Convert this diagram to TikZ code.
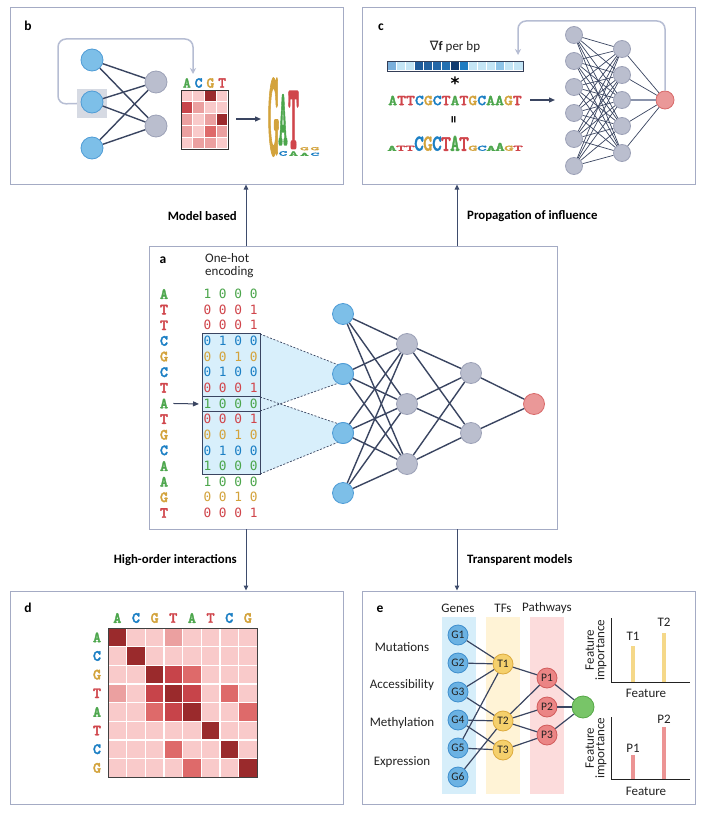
\documentclass[tikz,border=0pt]{standalone}
\usepackage{fontspec}
\setmainfont{Carlito}
\newfontfamily\seqfont{lmmonolt10-bold.otf}[FakeBold=2.2]
\newfontfamily\seqfontw{lmmonolt10-bold.otf}[FakeStretch=1.13,FakeBold=2.2]
\newfontfamily\digfont{DejaVu Sans Mono}
\newfontfamily\symfont{DejaVu Sans}
\usetikzlibrary{arrows.meta}
\definecolor{cA}{HTML}{4CA64C}
\definecolor{cC}{HTML}{1B7FC4}
\definecolor{cG}{HTML}{D3A33C}
\definecolor{cT}{HTML}{D0454B}
\definecolor{frame}{HTML}{A4ABC4}
\definecolor{edge}{HTML}{3A4561}
\definecolor{arr}{HTML}{3E4C6C}
\definecolor{nblue}{HTML}{7DBFE8}
\definecolor{nblueD}{HTML}{4F9CD6}
\definecolor{ngray}{HTML}{BABECE}
\definecolor{ngrayD}{HTML}{9CA1B7}
\definecolor{nred}{HTML}{EA9898}
\definecolor{nredD}{HTML}{D96A6A}
\definecolor{fb}{HTML}{B6BDD3}
\definecolor{lblue}{HTML}{D8EFFB}
\definecolor{sqg}{HTML}{D6DAE3}
\definecolor{h1}{HTML}{F9CACA}
\definecolor{h2}{HTML}{EBA0A0}
\definecolor{h3}{HTML}{DE6A6A}
\definecolor{h4}{HTML}{C7444A}
\definecolor{h5}{HTML}{9A2A2C}
\definecolor{bandB}{HTML}{D6EEFA}
\definecolor{bandY}{HTML}{FFF3D6}
\definecolor{bandP}{HTML}{FCDCDC}
\definecolor{gB}{HTML}{6BB2E3}
\definecolor{gBD}{HTML}{3E8ECD}
\definecolor{tY}{HTML}{F5D06C}
\definecolor{tYD}{HTML}{DDAB3E}
\definecolor{pP}{HTML}{EB8585}
\definecolor{pPD}{HTML}{D15B5B}
\definecolor{oG}{HTML}{78C568}
\definecolor{oGD}{HTML}{56A847}
\definecolor{barY}{HTML}{F5D889}
\definecolor{barP}{HTML}{EC9494}
\definecolor{txt}{HTML}{222222}
\definecolor{mline}{HTML}{8A93AB}
\newcommand\ohA{1 0 0 0}
\newcommand\ohC{0 1 0 0}
\newcommand\ohG{0 0 1 0}
\newcommand\ohT{0 0 0 1}
\newcommand\lbox[4]{\hbox to 11.5pt{\hss\resizebox{#1pt}{#2pt}{\color{#3}\seqfont #4}\hss}}
\begin{document}
\begin{tikzpicture}[x=1pt,y=-1pt,
  panel/.style={draw=frame,line width=1pt,inner sep=0,anchor=north west},
  plab/.style={font=\fontsize{13.5}{14}\selectfont\bfseries,inner sep=0,text=black},
  lab/.style={font=\fontsize{13}{13}\selectfont,inner sep=0,text=txt},
  blab/.style={font=\fontsize{12.8}{13}\selectfont\bfseries,inner sep=0,text=black},
  seqL/.style={font=\fontsize{15.5}{15.5}\selectfont\seqfont,inner sep=0},
  digs/.style={font=\fontsize{12.8}{13}\selectfont\digfont,inner sep=0},
  logo/.style={anchor=south,inner sep=0},
  nb/.style={circle,inner sep=0,minimum size=21pt,fill=nblue,draw=nblueD,line width=0.8pt},
  ng/.style={circle,inner sep=0,minimum size=21pt,fill=ngray,draw=ngrayD,line width=0.8pt},
  nr/.style={circle,inner sep=0,minimum size=21pt,fill=nred,draw=nredD,line width=0.8pt},
  wire/.style={draw=edge,line width=1.4pt},
  thinwire/.style={draw=edge,line width=0.7pt},
  parrow/.style={draw=arr,line width=1pt,-{Triangle[length=5pt,width=4.5pt]}},
  fbarrow/.style={draw=fb,line width=1.5pt,rounded corners=8pt,-{Stealth[length=6pt,width=6pt]}},
  darrow/.style={draw=edge,line width=1.3pt,-{Triangle[length=6pt,width=5pt]}},
  gnode/.style={circle,inner sep=0,minimum size=20pt,fill=gB,draw=gBD,line width=0.8pt,font=\fontsize{11.5}{12}\selectfont,text=txt},
  tnode/.style={circle,inner sep=0,minimum size=20pt,fill=tY,draw=tYD,line width=0.8pt,font=\fontsize{11.5}{12}\selectfont,text=txt},
  pnode/.style={circle,inner sep=0,minimum size=20pt,fill=pP,draw=pPD,line width=0.8pt,font=\fontsize{11.5}{12}\selectfont,text=txt},
  ewire/.style={draw=edge,line width=1.2pt}
]
\useasboundingbox (0,0) rectangle (704,813);
\fill[white] (0,0) rectangle (704,813);

% ---------- panel frames ----------
\node[panel,minimum width=333pt,minimum height=177pt] (pb) at (10,7) {};
\node[panel,minimum width=333pt,minimum height=177pt] (pc) at (362,7) {};
\node[panel,minimum width=408pt,minimum height=283pt] (pa) at (149,246) {};
\node[panel,minimum width=333pt,minimum height=213pt] (pd) at (10,591) {};
\node[panel,minimum width=333pt,minimum height=213pt] (pe) at (362,591) {};

% ---------- inter-panel arrows ----------
\coordinate (ab0) at (246,246); \coordinate (ab1) at (246,184.5);
\coordinate (ac0) at (457,246); \coordinate (ac1) at (457,184.5);
\coordinate (ad0) at (246,529); \coordinate (ad1) at (246,590.5);
\coordinate (ae0) at (457,529); \coordinate (ae1) at (457,590.5);
\draw[parrow] (ab0) -- (ab1);
\draw[parrow] (ac0) -- (ac1);
\draw[parrow] (ad0) -- (ad1);
\draw[parrow] (ae0) -- (ae1);
\node[blab,anchor=east] (lmb) at (237,216) {Model based};
\node[blab,anchor=west] (lpi) at (467,216) {Propagation of influence};
\node[blab,anchor=east] (lho) at (237,560) {High-order interactions};
\node[blab,anchor=west] (ltm) at (467,560) {Transparent models};

% ================= panel a =================
\node[plab] (la) at (163,260) {a};
\node[lab,anchor=north west,align=left] (loh) at (205,253) {One-hot\\encoding};
\node[nb] (i1) at (343,314) {};
\node[nb] (i2) at (343,374) {};
\node[nb] (i3) at (343,433) {};
\node[nb] (i4) at (343,493) {};
\fill[lblue] (260,334) -- (i2.120) -- (i2.240) -- (260,411) -- cycle;
\fill[lblue] (260,397) -- (i3.120) -- (i3.240) -- (260,474) -- cycle;
\node[panel,fill=lblue,draw=edge,line width=0.9pt,minimum width=58pt,minimum height=141pt] (win) at (202,333) {};
\node[panel,draw=edge,line width=0.9pt,minimum width=58pt,minimum height=15pt] (hl) at (202,396) {};
\draw[edge,line width=0.7pt,dash pattern=on 2pt off 1.6pt] (260,334) -- (i2.120);
\draw[edge,line width=0.7pt,dash pattern=on 2pt off 1.6pt] (260,411) -- (i2.240);
\draw[edge,line width=0.7pt,dash pattern=on 2pt off 1.6pt] (260,397) -- (i3.120);
\draw[edge,line width=0.7pt,dash pattern=on 2pt off 1.6pt] (260,474) -- (i3.240);
\node[nb] at (i2) {};
\node[nb] at (i3) {};
\foreach \L [count=\i] in {A,T,T,C,G,C,T,A,T,G,C,A,A,G,T} {
  \node[seqL,text=c\L] (sq\i) at (164,{294+(\i-1)*15.64}) {\L};
  \node[digs,text=c\L] (oh\i) at (230.5,{294+(\i-1)*15.64}) {\csname oh\L\endcsname};
}
\draw[darrow,line width=1pt] ([xshift=5pt]sq8.east) -- ([xshift=-3pt]hl.west);
\node[ng] (h1) at (407,344) {};
\node[ng] (h2) at (407,404) {};
\node[ng] (h3) at (407,464) {};
\node[ng] (k1) at (471,373) {};
\node[ng] (k2) at (471,433) {};
\node[nr] (o) at (534,404) {};
\foreach \a in {i1,i2,i3,i4} \foreach \b in {h1,h2,h3} \draw[wire] (\a) -- (\b);
\foreach \a in {h1,h2,h3} \foreach \b in {k1,k2} \draw[wire] (\a) -- (\b);
\foreach \a in {k1,k2} \draw[wire] (\a) -- (o);

% ================= panel b =================
\node[plab] (lb) at (28,26) {b};
\node[fill=sqg,inner sep=0,minimum width=30pt,minimum height=29pt] (bsq) at (92,103.5) {};
\node[nb,minimum size=22pt] (bi1) at (92,60) {};
\node[nb,minimum size=22pt] (bi2) at (92,102) {};
\node[nb,minimum size=22pt] (bi3) at (92,148) {};
\node[ng,minimum size=22pt] (bh1) at (156,82) {};
\node[ng,minimum size=22pt] (bh2) at (156,126) {};
\foreach \a in {bi1,bi2,bi3} \foreach \b in {bh1,bh2} \draw[wire] (\a) -- (\b);
\coordinate (bfe) at (193,74);
\draw[fbarrow] (bsq.west) -- (58,104) -- (58,39) -- (193,39) -- (bfe);
\foreach \row [count=\i] in {{1,1,5,1},{4,2,1,1},{2,1,2,5},{2,1,3,2},{1,2,2,1}} {
  \foreach \v [count=\j] in \row {
    \fill[h\v] ({181+(\j-1)*11.75+0.6},{90+(\i-1)*11.8+0.6}) rectangle ++(10.55,10.6);
  }
}
\draw[black!80,line width=0.8pt] (181,90) rectangle (228,149);
\foreach \L [count=\j] in {A,C,G,T}
  \node[seqL,font=\fontsize{15}{15}\selectfont\seqfont,text=c\L] (bh\L) at ({181+(\j-0.5)*11.75},83) {\L};
\coordinate (ba1) at (236,119); \coordinate (ba2) at (261,119);
\draw[darrow] (ba1) -- (ba2);
% logo b (one node per column)
\node[logo] (blc1) at (273.5,156) {\lbox{11.5}{76}{cG}{G}};
\node[logo] (blc2) at (283,156) {\vbox{\offinterlineskip\lbox{9.5}{50}{cA}{A}\vskip 6.5pt\lbox{8.5}{4.5}{cC}{C}}};
\node[logo] (blc3) at (293.5,156) {\vbox{\offinterlineskip\lbox{11}{57}{cT}{T}\vskip 3pt\lbox{9}{4.5}{cA}{A}}};
\node[logo] (blc4) at (304.5,156) {\vbox{\offinterlineskip\lbox{9}{3}{cG}{G}\vskip 2.5pt\lbox{9}{3}{cA}{A}}};
\node[logo] (blc5) at (315,156) {\vbox{\offinterlineskip\lbox{9}{3}{cG}{G}\vskip 2.5pt\lbox{9}{3}{cC}{C}}};

% ================= panel c =================
\node[plab] (lc) at (381,27) {c};
\node[lab] (lgrad) at (455,47) {{\symfont\fontsize{13}{13}\selectfont ∇}\textbf{f} per bp};
\foreach \c [count=\i] in {7AAFDB,C3E5F6,C3E5F6,1D5A9A,22609F,2467A8,2370B2,0F3A70,1F7CC2,C3E5F6,C3E5F6,C3E5F6,8EC4E8,C3E5F6,C3E5F6} {
  \definecolor{gc}{HTML}{\c}
  \fill[gc] ({387+(\i-1)*9.067+0.5},61.5) rectangle ++(8.07,9);
}
\draw[edge!90!black,line width=0.9pt] (387,61) rectangle (523,71);
\node[inner sep=0,anchor=north,font=\fontsize{17}{17}\selectfont\symfont\bfseries] (cstar) at (455,76.5) {*};
\node[inner sep=0,font=\fontsize{15}{15}\selectfont\seqfontw] (cseq) at (455,100.5) {\color{cA}A\color{cT}TT\color{cC}C\color{cG}G\color{cC}C\color{cT}T\color{cA}A\color{cT}T\color{cG}G\color{cC}C\color{cA}AA\color{cG}G\color{cT}T};
\node[inner sep=0,rotate=90,font=\fontsize{15}{15}\selectfont\bfseries] (ceq) at (455,120) {=};
\foreach \L/\h [count=\i] in {A/5,T/5,T/5,C/14,G/14,C/14,T/13.5,A/15,T/13.5,G/5,C/5,A/5,A/8,G/5,T/5} {
  \node[logo] (lg\i) at ({387.5+(\i-0.5)*9.0},151) {\resizebox{9.6pt}{\h pt}{\color{c\L}\seqfont \L}};
}
\coordinate (ca1) at (530,100); \coordinate (ca2) at (555,100);
\draw[darrow] (ca1) -- (ca2);
\foreach \y [count=\i] in {35,61,87,113,139,166} \node[ng,minimum size=17pt] (cl\i) at (574,\y) {};
\foreach \y [count=\i] in {49,75,100,126,153} \node[ng,minimum size=17pt] (cm\i) at (622,\y) {};
\node[nr,minimum size=18pt] (co) at (665,100) {};
\foreach \a in {1,...,6} \foreach \b in {1,...,5} \draw[thinwire] (cl\a) -- (cm\b);
\foreach \b in {1,2,4,5} \draw[thinwire] (cm\b) -- (co);
\draw[draw=mline,line width=1.6pt] (cm3) -- (co);
\coordinate (cfe) at (518,55);
\draw[fbarrow] (co.north) -- (665,21) -- (518,21) -- (cfe);

% ================= panel d =================
\node[plab] (ld) at (28,608) {d};
\foreach \row [count=\i] in {{5,1,1,2,1,1,1,1},{1,5,1,1,1,1,1,1},{1,1,5,4,3,1,1,1},{2,1,4,5,4,1,3,1},{1,1,3,4,5,1,1,3},{1,1,1,1,1,5,1,1},{1,1,1,3,1,1,5,1},{1,1,1,1,3,1,1,5}} {
  \foreach \v [count=\j] in \row {
    \fill[h\v] ({108+(\j-1)*18.65+0.7},{628+(\i-1)*18.65+0.7}) rectangle ++(17.25,17.25);
  }
}
\draw[black!75,line width=0.8pt] (108,628) rectangle (257.2,777.2);
\foreach \L [count=\j] in {A,C,G,T,A,T,C,G} {
  \node[seqL,text=c\L] (dc\j) at ({108+(\j-0.5)*18.65},618) {\L};
  \node[seqL,text=c\L] (dr\j) at (97,{628+(\j-0.5)*18.65}) {\L};
}

% ================= panel e =================
\node[plab] (le) at (380,609) {e};
\fill[bandB] (442,617) rectangle (476,794);
\fill[bandY] (486,617) rectangle (520,794);
\fill[bandP] (530,617) rectangle (564,794);
\node[lab] (hg) at (458,608) {Genes};
\node[lab] (ht) at (503,608) {TFs};
\node[lab] (hp) at (547,608) {Pathways};
\foreach \y [count=\i] in {635,663,692,720,748,777} \node[gnode] (g\i) at (458,\y) {G\i};
\node[tnode] (t1) at (503,664) {T1};
\node[tnode] (t2) at (503,721) {T2};
\node[tnode] (t3) at (503,750) {T3};
\node[pnode] (p1) at (547,678) {P1};
\node[pnode] (p2) at (547,707) {P2};
\node[pnode] (p3) at (547,735) {P3};
\node[circle,inner sep=0,minimum size=22pt,fill=oG,draw=oGD,line width=0.8pt] (eo) at (583,707) {};
\foreach \a/\b in {g1/t1,g2/t1,g3/t1,g3/t2,g4/t2,g4/t3,g5/t1,g5/t3,g6/t2,t1/p1,t2/p1,t2/p2,t2/p3,t3/p3,p1/eo,p2/eo,p3/eo}
  \draw[ewire] (\a) -- (\b);
\node[lab] (rm) at (402,647) {Mutations};
\node[lab] (ra) at (402,685) {Accessibility};
\node[lab] (rme) at (402,723) {Methylation};
\node[lab] (rex) at (402,762) {Expression};
\draw[txt,line width=0.9pt] (611,618) -- (611,682) -- (690,682);
\fill[barY] (631.3,646) rectangle (634.8,682);
\fill[barY] (662.3,633) rectangle (665.8,682);
\node[lab] (bt1) at (633,636) {T1};
\node[lab] (bt2) at (664,622) {T2};
\node[lab] (bf1) at (646,693.5) {Feature};
\node[lab,rotate=90,align=center,font=\fontsize{13}{10.5}\selectfont] (bi1l) at (596,650) {Feature\\importance};
\draw[txt,line width=0.9pt] (611,717) -- (611,779) -- (690,779);
\fill[barP] (631.3,755) rectangle (634.8,779);
\fill[barP] (662.3,727) rectangle (665.8,779);
\node[lab] (bp1) at (633,748) {P1};
\node[lab] (bp2) at (664,719) {P2};
\node[lab] (bf2) at (646,791) {Feature};
\node[lab,rotate=90,align=center,font=\fontsize{13}{10.5}\selectfont] (bi2l) at (596,748) {Feature\\importance};
\end{tikzpicture}
\end{document}
